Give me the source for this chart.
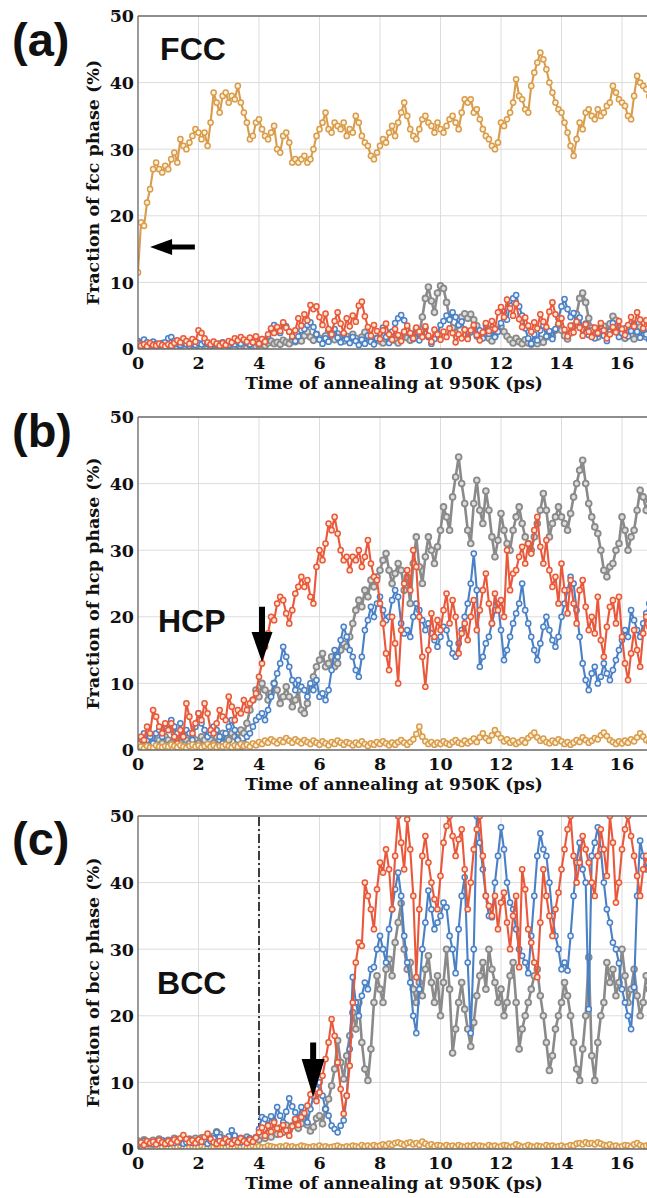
<!DOCTYPE html>
<html>
<head>
<meta charset="utf-8">
<script src="https://cdn.jsdelivr.net/npm/d3@7"></script>
<style>
  body { margin: 0; background: #fff; }
  svg { display: block; }
</style>
</head>
<body>
<svg id="chart"></svg>
<script>
// output every 0.1 ps of annealing
var timeStep = 0.1;

// ---- (a) fcc fraction ----
var fccOrange = [
  11.5, 19, 18.5, 22, 24, 27, 28, 27, 26.5, 27.5,
  27, 28.5, 29.5, 28, 31.5, 30.5, 30, 31, 32, 33,
  32.5, 31.5, 32.5, 30.5, 34, 38.5, 37, 35.5, 38, 38.5,
  37, 38, 37.5, 39.5, 37, 35.5, 34, 31.5, 32, 34,
  34.5, 33, 32, 31.5, 32.5, 33.5, 30, 29.5, 32, 32.5,
  31, 28, 28.5, 28, 28.5, 29, 28, 28.5, 30, 32,
  33, 34, 35.5, 33, 32.5, 34, 33.5, 33, 34, 32,
  33, 32.5, 35, 34, 32, 31, 30.5, 29, 28.5, 29.5,
  30.5, 31.5, 31, 32.5, 33.5, 32, 34, 35.5, 37, 35,
  33, 32, 31.5, 33, 34.5, 35, 34, 33.5, 32.5, 34,
  33, 32.5, 33.5, 34.5, 35, 34, 33, 35.5, 37.5, 37,
  37.5, 35.5, 36, 34.5, 33, 32, 31.5, 30.5, 30, 31,
  34, 33.5, 34.5, 35.5, 37, 40.5, 38, 37.5, 36, 35.5,
  39.5, 41.5, 43, 44.5, 43.5, 42, 40, 38.5, 37, 36,
  35.5, 34, 32.5, 30.5, 29, 31.5, 34, 33, 35.5, 36,
  35, 34.5, 36, 35, 35.5, 36.5, 37, 39.5, 38.5, 37.5,
  37, 36.5, 35, 34.5, 38, 41, 40, 39.5, 39, 38
];
var fccRed = [
  0.8, 0.5, 0.7, 0.4, 0.9, 0.6, 0.5, 0.8, 0.6, 0.4,
  0.7, 0.5, 0.9, 1.3, 1.0, 1.6, 1.2, 0.8, 1.5, 1.1,
  2.8, 2.4, 1.6, 1.0, 0.7, 1.1, 0.8, 0.5, 0.9, 0.6,
  1.2, 1.0, 1.6, 1.3, 1.8, 1.4, 1.1, 1.7, 1.0, 1.9,
  0.8, 1.5, 1.1, 2.2, 3.1, 2.4, 3.3, 2.7, 4.0, 3.2,
  2.6, 1.9, 2.8, 4.6, 3.5, 5.2, 4.3, 6.6, 6.0, 6.4,
  4.8, 3.6, 5.3, 3.0, 2.2, 4.2, 5.5, 3.8, 2.4, 4.6,
  3.4, 5.0, 4.1, 6.5, 7.1, 4.9, 3.3, 2.0, 3.6, 2.7,
  1.5, 2.8, 3.8, 2.2, 1.4, 3.0, 2.1, 1.2, 2.6, 3.5,
  2.4, 1.6, 3.2, 2.6, 1.8, 3.4, 2.0, 1.1, 2.9, 2.2,
  1.4, 2.6, 1.8, 3.1, 2.4, 1.0, 2.2, 1.6, 2.9, 1.5,
  2.8, 3.6, 2.1, 1.3, 2.5, 3.9, 2.7, 4.2, 3.0, 5.5,
  6.3, 4.8, 7.4, 6.1, 5.0, 6.8, 4.5, 3.3, 4.7, 3.5,
  2.6, 4.0, 3.1, 5.2, 4.1, 3.3, 5.6, 7.0, 5.2, 3.8,
  4.6, 2.9, 1.9, 3.5, 2.5, 4.1, 3.2, 2.0, 3.7, 2.6,
  1.8, 3.2, 2.4, 3.9, 2.8, 1.6, 2.2, 3.3, 2.5, 4.2,
  3.0, 2.1, 3.6, 4.8, 3.4, 5.5, 4.4, 3.1, 4.3, 3.6
];
var fccBlue = [
  1.2, 0.9, 1.4, 1.0, 0.7, 1.1, 0.8, 0.6, 0.9, 1.0,
  1.6, 1.8, 1.2, 0.8, 0.6, 0.9, 0.7, 0.5, 0.8, 0.6,
  0.9, 0.7, 1.1, 0.8, 0.5, 0.9, 0.6, 0.8, 1.0, 0.7,
  0.6, 0.9, 0.7, 1.1, 0.8, 1.3, 0.9, 0.7, 1.0, 1.2,
  0.8, 1.5, 1.1, 1.9, 3.0, 3.6, 3.2, 2.4, 3.8, 3.4,
  2.6, 1.8, 1.2, 1.9, 2.8, 3.0, 3.6, 4.0, 3.3, 2.2,
  1.4, 0.8, 1.6, 1.1, 2.3, 3.0, 1.7, 1.0, 2.2, 1.5,
  0.9, 1.8, 1.2, 0.6, 1.4, 0.8, 2.0, 1.1, 0.7, 1.6,
  2.4, 3.2, 1.8, 0.9, 2.6, 3.9, 4.6, 5.1, 4.3, 3.0,
  2.2, 1.5, 2.6, 1.3, 2.0, 3.1, 1.8, 0.8, 1.5, 2.4,
  3.6, 4.2, 5.0, 4.4, 5.5, 4.8, 3.6, 4.1, 2.9, 1.8,
  2.5, 3.3, 1.9, 2.8, 1.6, 3.6, 2.3, 2.9, 1.8, 2.6,
  3.9, 5.6, 4.4, 6.5, 7.6, 8.1, 6.4, 5.0, 3.1, 1.6,
  0.8, 2.2, 1.3, 2.8, 3.5, 1.9, 2.7, 1.5, 3.0, 4.6,
  6.4, 7.5, 6.0, 4.8, 5.4, 3.6, 4.7, 2.9, 3.8, 2.1,
  2.8, 1.6, 2.3, 3.4, 2.0, 1.2, 2.6, 3.9, 3.0, 1.8,
  2.4, 3.1, 1.9, 2.7, 3.8, 2.6, 1.7, 2.9, 2.2, 1.4
];
var fccGray = [
  0.3, 0.2, 0.4, 0.3, 0.2, 0.3, 0.4, 0.2, 0.3, 0.2,
  0.3, 0.4, 0.2, 0.3, 0.5, 0.3, 0.2, 0.4, 0.3, 0.2,
  0.4, 0.3, 0.5, 0.3, 0.2, 0.4, 0.3, 0.5, 0.4, 0.3,
  0.5, 0.4, 0.3, 0.6, 0.4, 0.5, 0.3, 0.6, 0.5, 0.4,
  0.6, 0.8, 0.5, 0.9, 1.2, 0.8, 1.0, 0.7, 1.3, 1.0,
  0.8, 1.4, 1.1, 1.6, 1.2, 2.0, 2.6, 1.8, 1.3, 2.2,
  1.6, 1.2, 2.0, 2.8, 1.9, 1.4, 2.3, 1.7, 1.2, 1.9,
  1.5, 2.2, 1.6, 1.1, 1.8, 2.5, 1.9, 1.3, 1.0, 1.6,
  1.2, 0.9, 1.5, 1.1, 1.8, 1.3, 0.9, 1.6, 2.4, 1.7,
  1.3, 2.1, 3.0, 2.2, 4.8, 7.6, 9.3, 7.2, 5.5, 8.4,
  9.5, 9.1, 7.0, 4.6, 3.2, 2.4, 3.6, 4.8, 5.3, 4.6,
  5.2, 4.4, 3.5, 2.6, 1.9, 2.5, 1.6, 1.2, 2.0, 2.8,
  3.4, 2.6, 1.9, 1.4, 0.9, 1.6, 1.1, 0.8, 1.4, 0.9,
  0.7, 1.2, 0.8, 1.5, 1.0, 1.8, 2.6, 1.9, 2.8, 3.6,
  2.8, 2.0, 1.5, 2.4, 3.5, 5.2, 7.6, 8.4, 7.0, 4.6,
  3.2, 2.4, 1.8, 2.6, 3.4, 2.5, 3.8, 4.9, 4.3, 3.1,
  2.2, 1.6, 2.8, 2.1, 1.5, 2.6, 3.3, 2.4, 1.8, 2.5
];

// ---- (b) hcp fraction ----
var hcpRed = [
  1.0, 2.0, 1.5, 3.5, 2.5, 6.0, 5.0, 3.5, 2.5, 4.0,
  3.0, 4.0, 2.0, 1.0, 3.0, 2.0, 7.0, 5.0, 2.5, 4.0,
  5.5, 4.5, 7.0, 5.5, 3.0, 2.5, 4.0, 6.0, 5.0, 4.5,
  8.0, 6.5, 4.5, 6.0, 5.5, 7.5, 6.0, 7.0, 7.5, 8.5,
  11.0, 13.0, 15.5, 17.5, 20.0, 19.5, 22.0, 23.0, 22.5, 20.5,
  19.0, 21.0, 23.5, 24.5, 26.0, 24.5, 25.5, 23.0, 22.0, 27.5,
  30.0, 28.5, 31.0, 34.0, 33.0, 35.0, 32.5, 30.0, 28.5, 29.0,
  27.0, 29.0, 28.5, 30.0, 27.5, 29.0, 31.5, 28.0, 26.0, 25.5,
  22.0, 19.0, 14.5, 12.0, 20.0, 16.0, 10.0, 18.0, 25.0, 27.0,
  24.0, 30.0, 27.5, 20.0, 14.0, 9.5, 15.0, 20.5, 17.0, 19.5,
  18.0, 21.0, 23.5, 19.0, 22.5, 20.0, 14.5, 17.5, 19.0, 16.5,
  20.0, 22.5, 18.0, 21.0, 24.0, 26.5, 22.0, 19.0, 23.5, 21.0,
  22.5, 20.0, 30.0, 24.0, 26.5, 27.0, 29.0, 30.5, 28.0, 31.0,
  29.5, 33.0, 35.0, 30.5, 28.0, 31.5, 27.0, 24.5, 26.0, 22.0,
  28.0, 24.0, 20.5, 25.5, 22.0, 19.0, 24.0, 25.5, 21.5, 18.0,
  20.0, 17.5, 23.0, 16.5, 14.0, 18.5, 21.5, 22.5, 19.0, 23.0,
  17.0, 13.0, 10.5, 14.5, 18.0, 15.0, 12.5, 17.5, 20.0, 18.5
];
var hcpBlue = [
  0.5, 1.5, 2.5, 1.5, 2.0, 1.0, 2.5, 3.0, 2.0, 3.5,
  3.0, 4.5, 3.5, 2.5, 4.0, 2.0, 3.0, 2.5, 1.5, 3.5,
  5.5, 4.0, 3.0, 2.0, 2.5, 3.5, 3.0, 2.0, 1.0, 2.5,
  3.5, 4.5, 3.0, 1.5, 0.5, 1.0, 2.0, 2.5, 3.5, 4.5,
  5.0, 5.5, 4.5, 6.0, 8.0, 10.0, 11.5, 13.0, 15.5, 14.0,
  12.5, 10.5, 9.0, 10.5, 9.5, 9.0, 8.0, 10.0, 9.0, 10.5,
  8.0, 8.5, 7.5, 9.0, 12.0, 15.0, 14.0, 16.5, 18.5, 17.0,
  15.0, 14.0, 12.0, 11.0, 14.0, 18.0, 19.5, 21.5, 20.0, 22.0,
  23.0, 21.0, 19.5, 20.0, 22.5, 24.0, 23.0, 19.0, 17.5, 18.0,
  17.0, 20.0, 22.0, 21.0, 19.5, 18.0, 19.0, 17.5, 16.5, 15.5,
  17.0, 18.5, 18.0, 16.0, 14.5, 14.0, 16.0, 18.0, 20.0, 22.0,
  25.0, 29.5, 24.0, 12.5, 14.0, 16.0, 17.0, 19.0, 21.0, 22.0,
  18.0, 13.5, 15.0, 17.0, 19.0, 20.5, 22.0, 25.0, 21.0, 19.0,
  17.0, 15.0, 13.5, 16.0, 18.5, 20.0, 18.0, 16.5, 15.5, 17.0,
  20.0, 22.0, 24.0, 26.0, 25.0, 21.0, 17.0, 13.0, 10.5, 9.0,
  11.5, 12.5, 10.0, 11.0, 13.0, 11.5, 10.5, 12.0, 13.5, 15.0,
  16.5, 18.0, 17.0, 21.0, 19.5, 18.0, 17.0, 19.0, 20.5, 22.0
];
var hcpGray = [
  1.0, 0.5, 1.5, 1.0, 2.0, 1.0, 0.5, 1.5, 1.0, 2.0,
  1.5, 1.0, 2.5, 1.5, 1.0, 2.0, 1.5, 1.0, 2.0, 1.5,
  1.0, 2.0, 1.5, 2.5, 1.5, 1.0, 2.0, 1.5, 2.5, 2.0,
  1.5, 2.5, 2.0, 1.5, 3.0, 2.5, 4.0, 6.0, 7.5, 9.0,
  8.0, 10.0, 9.0, 7.5, 8.5, 10.0, 9.0, 7.0, 8.0, 9.5,
  8.0, 6.5, 7.5, 9.0, 6.0, 5.5, 7.0, 9.5, 11.0, 12.5,
  13.5, 14.5, 12.5, 13.0, 14.0, 12.5, 13.0, 15.0, 16.0, 15.5,
  17.0, 19.0, 21.0, 22.5, 21.5, 24.0, 23.0, 25.5, 24.5, 26.0,
  27.0, 28.5, 29.5, 27.0, 25.0, 26.5, 28.0, 27.0, 24.0, 26.0,
  22.0, 28.0, 32.0, 27.5, 25.0, 29.0, 32.0, 30.0, 28.0, 30.5,
  33.0, 36.5, 35.0, 33.0, 38.0, 41.0, 44.0, 40.0, 37.0, 33.0,
  31.0, 37.0, 40.5, 36.0, 34.0, 38.9, 36.0, 32.0, 29.0, 31.5,
  35.5, 33.0, 31.0, 30.0, 33.0, 35.0, 36.5, 34.0, 32.0, 31.0,
  30.0, 32.0, 34.0, 36.0, 38.5, 36.0, 32.0, 34.0, 35.0, 36.5,
  35.0, 34.0, 33.0, 35.5, 38.0, 40.0, 42.0, 43.5, 40.0, 37.0,
  35.0, 33.5, 32.5, 30.0, 27.0, 26.0, 27.5, 28.0, 30.0, 31.0,
  35.0, 33.0, 30.0, 32.0, 33.0, 36.0, 39.0, 38.0, 36.0, 37.5
];
var hcpOrange = [
  0.3, 0.5, 0.2, 0.6, 0.4, 0.3, 0.7, 0.5, 0.4, 0.6,
  0.5, 0.8, 0.6, 0.4, 0.7, 0.5, 0.3, 0.6, 0.8, 0.5,
  0.7, 0.4, 0.6, 0.9, 0.5, 0.7, 0.4, 0.6, 0.5, 0.8,
  0.6, 0.4, 0.7, 0.5, 0.9, 0.6, 0.8, 0.5, 1.0, 0.7,
  1.2, 0.9, 1.4, 1.1, 1.6, 1.3, 1.0, 1.5, 1.2, 1.8,
  1.4, 1.1, 1.6, 1.3, 1.0, 1.5, 1.2, 0.9, 1.4, 1.1,
  0.8, 1.3, 1.0, 0.7, 1.2, 0.9, 1.4, 1.1, 0.8, 1.2,
  1.0, 0.7, 1.1, 0.8, 1.3, 0.9, 0.6, 1.0, 0.8, 1.2,
  0.9, 1.3, 1.0, 0.7, 1.1, 0.8, 1.2, 1.5, 1.1, 0.8,
  1.2, 1.6, 2.4, 3.5, 2.0, 1.3, 0.9, 1.2, 0.8, 1.1,
  0.9, 1.3, 1.0, 0.8, 1.2, 1.5, 1.1, 0.9, 1.4, 1.0,
  1.3, 1.7, 1.2, 1.9, 2.5, 1.8, 1.4, 2.2, 3.0, 2.4,
  1.8, 1.3, 1.6, 1.1, 1.4, 0.9, 1.2, 1.5, 1.1, 1.8,
  2.2, 2.6, 1.9, 1.4, 1.7, 1.2, 1.0, 1.4, 1.1, 1.6,
  1.3, 0.9, 1.2, 0.8, 1.1, 1.5, 1.2, 1.9, 1.5, 1.1,
  1.4, 1.8, 1.6, 2.2, 2.6, 2.1, 1.5, 1.2, 0.9, 1.3,
  1.0, 1.4, 1.1, 1.6, 1.3, 1.9, 2.5, 2.0, 1.5, 1.2
];

// ---- (c) bcc fraction ----
var bccRed = [
  0.8, 1.0, 0.6, 1.2, 0.9, 1.1, 0.7, 1.3, 1.0, 0.8,
  1.2, 0.9, 1.4, 1.1, 1.6, 2.1, 1.5, 1.0, 1.3, 0.9,
  1.4, 1.1, 1.8, 2.3, 1.5, 1.0, 0.8, 1.2, 0.9, 1.5,
  1.1, 0.8, 1.3, 1.0, 1.6, 1.2, 0.9, 1.4, 1.1, 1.7,
  2.5, 3.2, 2.0, 3.5, 2.6, 4.0, 3.1, 2.2, 3.6, 2.8,
  2.0, 3.4, 4.5, 3.6, 4.8, 5.4, 6.5, 8.2, 10.0, 7.2,
  8.5, 11.0, 13.5, 16.0, 19.5, 17.0, 13.0, 9.0, 5.3, 8.0,
  12.5, 22.0, 28.0, 31.0, 30.5, 40.0, 38.0, 36.0, 33.0, 39.0,
  43.0, 41.5, 45.0, 42.0, 36.0, 44.0, 50.0, 46.0, 42.0, 49.5,
  45.0, 38.0, 25.8, 36.0, 44.0, 47.0, 43.0, 40.0, 37.5, 36.0,
  41.0, 46.0, 48.5, 50.0, 47.0, 44.0, 46.5, 48.0, 42.0, 36.0,
  40.0, 45.0, 48.0, 50.0, 44.0, 38.0, 36.5, 35.0, 38.0, 33.0,
  37.0, 38.5, 34.0, 30.0, 35.0, 38.0, 27.3, 42.0, 39.0, 33.0,
  31.0, 28.0, 25.8, 34.0, 42.0, 38.0, 35.0, 32.0, 36.0, 38.5,
  42.0, 45.0, 48.0, 50.0, 44.0, 40.0, 43.0, 47.0, 45.0, 43.0,
  40.0, 38.0, 44.0, 48.0, 45.0, 41.0, 50.0, 46.0, 37.0, 40.0,
  45.0, 48.0, 50.0, 47.0, 44.0, 41.0, 38.0, 42.0, 44.0, 42.0
];
var bccBlue = [
  0.6, 0.9, 1.2, 0.8, 1.0, 0.7, 1.1, 0.9, 1.3, 1.0,
  0.8, 1.2, 0.9, 1.4, 1.1, 0.8, 1.0, 1.3, 0.9, 1.2,
  1.0, 1.4, 1.1, 0.8, 1.2, 1.6, 2.5, 1.8, 1.2, 1.0,
  1.9, 2.8, 2.0, 1.3, 1.0, 1.4, 1.1, 1.6, 1.3, 1.8,
  3.0, 4.8, 4.5, 3.6, 4.9, 4.2, 6.3, 5.0, 4.0, 5.6,
  7.6, 6.4, 5.5, 4.6, 6.3, 5.2, 4.0, 6.0, 8.0, 9.0,
  10.0, 8.0, 6.0, 5.0, 3.5, 3.0, 2.5, 3.5, 4.3, 8.0,
  15.0, 25.8, 22.0, 20.0, 23.0, 25.0, 24.0, 27.0, 27.3, 30.0,
  32.0, 30.0, 28.0, 33.0, 36.0, 39.0, 41.5, 38.0, 32.0, 28.0,
  25.0, 20.0, 17.4, 24.0, 30.0, 34.0, 38.8, 36.0, 33.0, 34.0,
  35.0, 37.0, 36.3, 32.0, 30.0, 26.4, 33.0, 38.0, 40.8, 28.0,
  17.4, 30.0, 50.0, 46.0, 42.0, 38.0, 35.0, 34.8, 40.0, 44.0,
  48.3, 45.0, 40.0, 37.0, 36.0, 33.0, 30.0, 29.0, 28.0, 26.4,
  32.0, 38.0, 44.0, 47.4, 45.0, 44.0, 40.0, 35.0, 32.0, 30.0,
  27.0, 28.0, 26.8, 32.0, 38.0, 43.0, 46.0, 42.0, 40.0, 21.0,
  44.0, 46.0, 48.3, 45.0, 40.0, 36.0, 34.0, 31.0, 30.0, 27.9,
  24.0, 22.0, 20.0, 18.0, 24.3, 38.0, 46.3, 44.0, 42.0, 44.0
];
var bccGray = [
  1.2, 1.0, 1.4, 1.1, 0.9, 1.3, 1.0, 1.5, 1.2, 1.0,
  1.3, 1.1, 1.6, 1.2, 1.0, 1.4, 1.1, 1.5, 1.2, 1.6,
  1.3, 1.7, 1.4, 1.1, 1.5, 1.9, 2.6, 2.2, 1.6, 1.3,
  1.5, 1.8, 1.4, 1.2, 1.6, 1.3, 1.8, 1.5, 1.2, 1.6,
  1.4, 2.0, 1.6, 2.4, 1.8, 2.9, 2.2, 3.2, 2.5, 3.6,
  2.8, 3.5, 4.4, 3.1, 3.8, 4.8, 3.6, 2.7, 3.3, 4.6,
  5.0, 3.8, 6.0, 7.5, 9.5, 12.0, 16.3, 13.0, 10.5, 14.0,
  17.0, 20.5, 18.0, 22.0, 16.0, 12.0, 10.3, 15.0, 22.0, 26.0,
  24.0, 22.0, 27.0, 28.5, 26.0, 31.0, 34.0, 36.9, 30.0, 27.0,
  28.0, 24.0, 22.0, 25.0, 23.0, 27.0, 29.0, 25.0, 22.0, 26.0,
  20.0, 25.0, 30.0, 24.0, 14.4, 18.0, 22.0, 25.0, 21.0, 18.0,
  15.4, 19.0, 23.0, 26.0, 28.0, 24.0, 30.0, 27.0, 25.0, 22.0,
  24.0, 20.0, 22.0, 26.0, 28.0, 22.0, 15.0, 18.0, 20.0, 22.0,
  24.0, 26.0, 27.0, 23.0, 20.0, 16.0, 11.8, 14.0, 18.0, 20.0,
  22.0, 25.0, 23.0, 20.0, 16.0, 12.0, 10.3, 15.0, 20.0, 28.8,
  14.0, 10.3, 16.0, 20.0, 22.0, 28.0, 25.0, 27.0, 23.0, 25.0,
  30.0, 26.0, 22.0, 24.0, 27.0, 23.0, 20.0, 22.0, 26.0, 24.0
];
var bccOrange = [
  0.3, 0.4, 0.2, 0.3, 0.5, 0.3, 0.2, 0.4, 0.3, 0.5,
  0.3, 0.2, 0.4, 0.3, 0.5, 0.4, 0.2, 0.3, 0.4, 0.2,
  0.3, 0.5, 0.3, 0.2, 0.4, 0.3, 0.5, 0.4, 0.3, 0.2,
  0.4, 0.3, 0.2, 0.5, 0.3, 0.4, 0.2, 0.3, 0.5, 0.3,
  0.4, 0.2, 0.3, 0.5, 0.4, 0.3, 0.2, 0.4, 0.3, 0.5,
  0.3, 0.4, 0.2, 0.3, 0.5, 0.4, 0.3, 0.2, 0.4, 0.3,
  0.5, 0.3, 0.4, 0.2, 0.3, 0.4, 0.5, 0.3, 0.2, 0.4,
  0.3, 0.5, 0.4, 0.3, 0.6, 0.4, 0.5, 0.3, 0.6, 0.4,
  0.5, 0.7, 0.5, 0.8, 0.6, 0.9, 1.0, 0.8, 0.6, 0.9,
  1.0, 0.7, 0.9, 0.6, 1.1, 0.8, 0.5, 0.7, 0.4, 0.6,
  0.5, 0.3, 0.6, 0.4, 0.5, 0.3, 0.6, 0.4, 0.3, 0.5,
  0.4, 0.6, 0.3, 0.5, 0.4, 0.3, 0.6, 0.4, 0.5, 0.3,
  0.4, 0.6, 0.5, 0.3, 0.4, 0.7, 0.5, 0.3, 0.4, 0.6,
  0.4, 0.3, 0.5, 0.4, 0.3, 0.6, 0.4, 0.5, 0.3, 0.4,
  0.5, 0.3, 0.4, 0.6, 0.5, 0.8, 0.9, 0.7, 1.0, 0.8,
  0.9, 0.7, 1.0, 0.8, 0.6, 0.5, 0.7, 0.4, 0.5, 0.3,
  0.4, 0.6, 0.5, 0.3, 0.7, 0.9, 0.6, 0.4, 0.5, 0.6
];

var xTicks = [0, 2, 4, 6, 8, 10, 12, 14, 16];
var yTicks = [0, 10, 20, 30, 40, 50];
var xTitle = "Time of annealing at 950K (ps)";

var colors = {
  orange: "#d99c4c",
  red: "#e9583b",
  blue: "#4a80c5",
  gray: "#8a8a8a",
};
var fills = {
  orange: "#fff3dc",
  red: "#ffe8cf",
  blue: "#eef4ff",
  gray: "#dedede",
};

var dimensions = {
  width: 647,
  height: 1198,
  left: 138,
  plotHeight: 333,
};

var panels = [
  {
    letter: "(a)", letterY: 56, phase: "FCC", phaseAt: [0.73, 43.4],
    top: 16, yTitle: "Fraction of fcc phase (%)",
    series: [
      { values: fccGray, key: "gray" },
      { values: fccBlue, key: "blue" },
      { values: fccRed, key: "red" },
      { values: fccOrange, key: "orange" },
    ],
    arrow: { from: [1.88, 15.3], to: [0.4, 15.3], shaft: 5, headW: 16, headL: 22 },
  },
  {
    letter: "(b)", letterY: 447, phase: "HCP", phaseAt: [0.66, 17.7],
    top: 417, yTitle: "Fraction of hcp phase (%)",
    series: [
      { values: hcpGray, key: "gray" },
      { values: hcpBlue, key: "blue" },
      { values: hcpRed, key: "red" },
      { values: hcpOrange, key: "orange" },
    ],
    arrow: { from: [4.1, 21.5], to: [4.1, 13.2], shaft: 6, headW: 21, headL: 30 },
  },
  {
    letter: "(c)", letterY: 855, phase: "BCC", phaseAt: [0.63, 23.2],
    top: 816, yTitle: "Fraction of bcc phase (%)",
    series: [
      { values: bccOrange, key: "orange" },
      { values: bccGray, key: "gray" },
      { values: bccBlue, key: "blue" },
      { values: bccRed, key: "red" },
    ],
    arrow: { from: [5.79, 16.0], to: [5.79, 7.8], shaft: 6, headW: 23, headL: 38 },
    marker: 4,
  },
];

var svg = d3
  .select("#chart")
  .attr("width", dimensions.width)
  .attr("height", dimensions.height)
  .style("background", "#fff");

var defs = svg.append("defs");
defs
  .append("filter")
  .attr("id", "soft")
  .append("feGaussianBlur")
  .attr("stdDeviation", 0.6);

var xScale = d3
  .scaleLinear()
  .domain([0, 20])
  .range([dimensions.left, dimensions.left + 605]);

function arrowPath(p1, p2, shaft, headW, headL) {
  var dx = p2[0] - p1[0];
  var dy = p2[1] - p1[1];
  var len = Math.sqrt(dx * dx + dy * dy);
  var ux = dx / len, uy = dy / len;
  var nx = -uy, ny = ux;
  var neck = [p2[0] - ux * headL, p2[1] - uy * headL];
  var pts = [
    [p1[0] + nx * shaft / 2, p1[1] + ny * shaft / 2],
    [neck[0] + nx * shaft / 2, neck[1] + ny * shaft / 2],
    [neck[0] + nx * headW / 2, neck[1] + ny * headW / 2],
    p2,
    [neck[0] - nx * headW / 2, neck[1] - ny * headW / 2],
    [neck[0] - nx * shaft / 2, neck[1] - ny * shaft / 2],
    [p1[0] - nx * shaft / 2, p1[1] - ny * shaft / 2],
  ];
  return "M" + pts.map(function (p) { return p.join(","); }).join("L") + "Z";
}

panels.forEach(function (panel, pi) {
  var yScale = d3
    .scaleLinear()
    .domain([0, 50])
    .range([panel.top + dimensions.plotHeight, panel.top]);

  var g = svg.append("g");

  // grid
  g.append("g")
    .selectAll("line")
    .data(xTicks)
    .join("line")
    .attr("x1", function (d) { return xScale(d); })
    .attr("x2", function (d) { return xScale(d); })
    .attr("y1", yScale(0))
    .attr("y2", yScale(50))
    .attr("stroke", "#dcdcdc")
    .attr("stroke-width", 1);

  g.append("g")
    .selectAll("line")
    .data(yTicks)
    .join("line")
    .attr("x1", xScale(0))
    .attr("x2", dimensions.width)
    .attr("y1", function (d) { return yScale(d); })
    .attr("y2", function (d) { return yScale(d); })
    .attr("stroke", "#dcdcdc")
    .attr("stroke-width", 1);

  // clip to the axes box
  var clipId = "clip" + pi;
  defs
    .append("clipPath")
    .attr("id", clipId)
    .append("rect")
    .attr("x", xScale(0))
    .attr("y", yScale(50))
    .attr("width", dimensions.width - xScale(0))
    .attr("height", dimensions.plotHeight);

  var plot = g.append("g").attr("clip-path", "url(#" + clipId + ")");

  if (panel.marker) {
    plot
      .append("line")
      .attr("x1", xScale(panel.marker))
      .attr("x2", xScale(panel.marker))
      .attr("y1", yScale(0))
      .attr("y2", yScale(50))
      .attr("stroke", "#111")
      .attr("stroke-width", 1.6)
      .attr("stroke-dasharray", "9,3,2,3");
  }

  var line = d3
    .line()
    .x(function (d, i) { return xScale(i * timeStep); })
    .y(function (d) { return yScale(d); });

  panel.series.forEach(function (s) {
    var sg = plot.append("g");
    var isGray = s.key === "gray";
    if (isGray) sg.attr("filter", "url(#soft)");
    sg.append("path")
      .datum(s.values)
      .attr("d", line)
      .attr("fill", "none")
      .attr("stroke", colors[s.key])
      .attr("stroke-width", isGray ? 2.6 : 2.1);
    sg.selectAll("circle")
      .data(s.values)
      .join("circle")
      .attr("cx", function (d, i) { return xScale(i * timeStep); })
      .attr("cy", function (d) { return yScale(d); })
      .attr("r", isGray ? 2.9 : 2.6)
      .attr("fill", fills[s.key])
      .attr("stroke", colors[s.key])
      .attr("stroke-width", isGray ? 1.8 : 1.5);
  });

  // frame
  g.append("line")
    .attr("x1", xScale(0)).attr("x2", xScale(0))
    .attr("y1", yScale(0)).attr("y2", yScale(50))
    .attr("stroke", "#6e6e6e").attr("stroke-width", 1.3);
  g.append("line")
    .attr("x1", xScale(0)).attr("x2", dimensions.width)
    .attr("y1", yScale(50)).attr("y2", yScale(50))
    .attr("stroke", "#6e6e6e").attr("stroke-width", 1.3);
  g.append("line")
    .attr("x1", xScale(0)).attr("x2", dimensions.width)
    .attr("y1", yScale(0)).attr("y2", yScale(0))
    .attr("stroke", "#6e6e6e").attr("stroke-width", 1.3);

  // tick labels
  g.append("g")
    .selectAll("text")
    .data(xTicks)
    .join("text")
    .attr("x", function (d) { return xScale(d); })
    .attr("y", yScale(0) + 20)
    .attr("text-anchor", "middle")
    .attr("font-family", "DejaVu Serif")
    .attr("font-weight", "bold")
    .attr("font-size", 17.5)
    .attr("fill", "#111")
    .text(function (d) { return d; });

  g.append("g")
    .selectAll("text")
    .data(yTicks)
    .join("text")
    .attr("x", xScale(0) - 4)
    .attr("y", function (d) { return yScale(d); })
    .attr("dy", "0.36em")
    .attr("text-anchor", "end")
    .attr("font-family", "DejaVu Serif")
    .attr("font-weight", "bold")
    .attr("font-size", 17.5)
    .attr("fill", "#111")
    .text(function (d) { return d; });

  // axis titles
  g.append("text")
    .attr("x", 394)
    .attr("y", yScale(0) + 40)
    .attr("text-anchor", "middle")
    .attr("font-family", "DejaVu Serif")
    .attr("font-weight", "bold")
    .attr("font-size", 17)
    .attr("fill", "#111")
    .text(xTitle);

  g.append("text")
    .attr("transform", "translate(99," + yScale(25) + ") rotate(-90)")
    .attr("text-anchor", "middle")
    .attr("font-family", "DejaVu Serif")
    .attr("font-weight", "bold")
    .attr("font-size", 17.5)
    .attr("fill", "#111")
    .text(panel.yTitle);

  // panel letter and phase name
  g.append("text")
    .attr("x", 12)
    .attr("y", panel.letterY)
    .attr("font-family", "Liberation Sans, Arial, sans-serif")
    .attr("font-weight", "bold")
    .attr("font-size", 47)
    .attr("fill", "#111")
    .text(panel.letter);

  g.append("text")
    .attr("x", xScale(panel.phaseAt[0]))
    .attr("y", yScale(panel.phaseAt[1]))
    .attr("font-family", "Liberation Sans, Arial, sans-serif")
    .attr("font-weight", "bold")
    .attr("font-size", 32)
    .attr("fill", "#111")
    .text(panel.phase);

  var a = panel.arrow;
  g.append("path")
    .attr(
      "d",
      arrowPath(
        [xScale(a.from[0]), yScale(a.from[1])],
        [xScale(a.to[0]), yScale(a.to[1])],
        a.shaft,
        a.headW,
        a.headL
      )
    )
    .attr("fill", "#000");
});
</script>
</body>
</html>
